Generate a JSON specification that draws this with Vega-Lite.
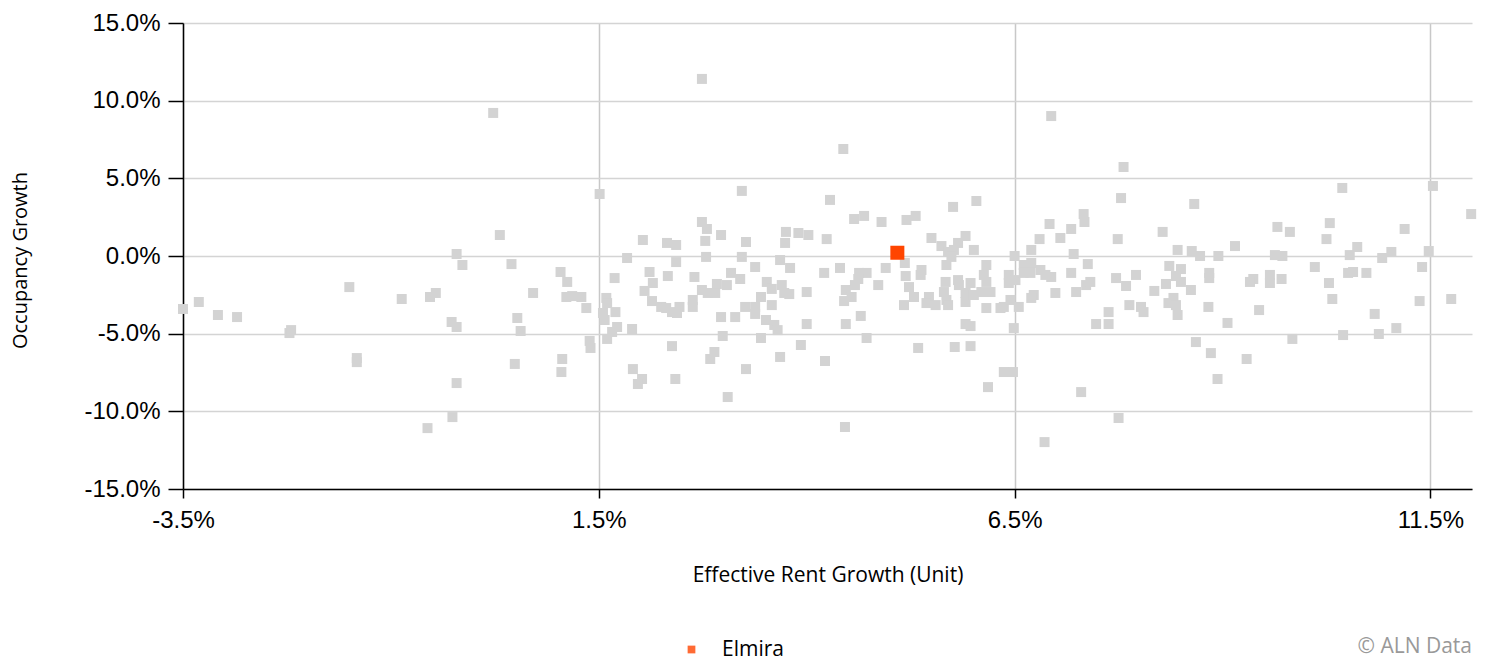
{
  "$schema": "https://vega.github.io/schema/vega-lite/v6.json",
  "width": 1289,
  "height": 466,
  "autosize": {"type": "none"},
  "padding": {"left": 183, "top": 23, "right": 14, "bottom": 169},
  "background": "white",
  "config": {
    "view": {"stroke": null},
    "axis": {"labelFont": "Liberation Sans", "titleFont": "Open Sans", "labelColor": "#000", "titleColor": "#000", "titleFontWeight": "normal"},
    "legend": {"labelFont": "Open Sans"}
  },
  "title": {"text": "© ALN Data", "orient": "bottom", "anchor": "end", "frame": "group", "font": "Open Sans", "fontSize": 21, "fontWeight": "normal", "color": "#999999", "baseline": "top", "offset": -24},
  "data": {"values": [
    {"x": -3.50, "y": -3.41, "m": "Other"},
    {"x": -3.31, "y": -2.96, "m": "Other"},
    {"x": -3.08, "y": -3.80, "m": "Other"},
    {"x": -2.85, "y": -3.93, "m": "Other"},
    {"x": -2.22, "y": -4.96, "m": "Other"},
    {"x": -2.20, "y": -4.77, "m": "Other"},
    {"x": -1.50, "y": -2.00, "m": "Other"},
    {"x": -1.41, "y": -6.57, "m": "Other"},
    {"x": -1.41, "y": -6.83, "m": "Other"},
    {"x": -0.87, "y": -2.77, "m": "Other"},
    {"x": -0.53, "y": -2.64, "m": "Other"},
    {"x": -0.46, "y": -2.38, "m": "Other"},
    {"x": -0.27, "y": -4.25, "m": "Other"},
    {"x": -0.21, "y": -4.57, "m": "Other"},
    {"x": -0.21, "y": 0.13, "m": "Other"},
    {"x": -0.14, "y": -0.58, "m": "Other"},
    {"x": -0.21, "y": -8.18, "m": "Other"},
    {"x": -0.26, "y": -10.37, "m": "Other"},
    {"x": -0.56, "y": -11.08, "m": "Other"},
    {"x": 0.23, "y": 9.21, "m": "Other"},
    {"x": 0.31, "y": 1.35, "m": "Other"},
    {"x": 0.45, "y": -0.52, "m": "Other"},
    {"x": 0.49, "y": -6.95, "m": "Other"},
    {"x": 0.71, "y": -2.38, "m": "Other"},
    {"x": 0.52, "y": -3.99, "m": "Other"},
    {"x": 0.56, "y": -4.83, "m": "Other"},
    {"x": 1.04, "y": -1.03, "m": "Other"},
    {"x": 1.12, "y": -1.67, "m": "Other"},
    {"x": 1.11, "y": -2.64, "m": "Other"},
    {"x": 1.18, "y": -2.58, "m": "Other"},
    {"x": 1.29, "y": -2.64, "m": "Other"},
    {"x": 1.35, "y": -3.35, "m": "Other"},
    {"x": 1.06, "y": -6.63, "m": "Other"},
    {"x": 1.05, "y": -7.47, "m": "Other"},
    {"x": 1.39, "y": -5.47, "m": "Other"},
    {"x": 1.40, "y": -5.92, "m": "Other"},
    {"x": 1.51, "y": 3.99, "m": "Other"},
    {"x": 1.69, "y": -1.42, "m": "Other"},
    {"x": 1.59, "y": -2.70, "m": "Other"},
    {"x": 1.60, "y": -3.03, "m": "Other"},
    {"x": 1.55, "y": -3.67, "m": "Other"},
    {"x": 1.57, "y": -4.12, "m": "Other"},
    {"x": 1.70, "y": -3.61, "m": "Other"},
    {"x": 1.66, "y": -4.89, "m": "Other"},
    {"x": 1.72, "y": -4.57, "m": "Other"},
    {"x": 1.60, "y": -5.34, "m": "Other"},
    {"x": 1.90, "y": -4.70, "m": "Other"},
    {"x": 1.84, "y": -0.13, "m": "Other"},
    {"x": 1.91, "y": -7.28, "m": "Other"},
    {"x": 2.02, "y": -7.92, "m": "Other"},
    {"x": 1.97, "y": -8.24, "m": "Other"},
    {"x": 2.03, "y": 1.03, "m": "Other"},
    {"x": 2.11, "y": -1.03, "m": "Other"},
    {"x": 2.15, "y": -1.74, "m": "Other"},
    {"x": 2.05, "y": -2.25, "m": "Other"},
    {"x": 2.14, "y": -2.90, "m": "Other"},
    {"x": 2.25, "y": -3.28, "m": "Other"},
    {"x": 2.31, "y": -3.35, "m": "Other"},
    {"x": 2.38, "y": -3.61, "m": "Other"},
    {"x": 2.44, "y": -3.67, "m": "Other"},
    {"x": 2.47, "y": -3.28, "m": "Other"},
    {"x": 2.32, "y": 0.84, "m": "Other"},
    {"x": 2.43, "y": 0.71, "m": "Other"},
    {"x": 2.43, "y": -0.39, "m": "Other"},
    {"x": 2.33, "y": -1.29, "m": "Other"},
    {"x": 2.38, "y": -5.80, "m": "Other"},
    {"x": 2.42, "y": -7.92, "m": "Other"},
    {"x": 2.63, "y": -2.83, "m": "Other"},
    {"x": 2.63, "y": -3.28, "m": "Other"},
    {"x": 2.65, "y": -1.35, "m": "Other"},
    {"x": 2.74, "y": 11.40, "m": "Other"},
    {"x": 2.74, "y": 2.19, "m": "Other"},
    {"x": 2.80, "y": 1.74, "m": "Other"},
    {"x": 2.78, "y": 0.97, "m": "Other"},
    {"x": 2.79, "y": -0.06, "m": "Other"},
    {"x": 2.74, "y": -2.19, "m": "Other"},
    {"x": 2.81, "y": -2.38, "m": "Other"},
    {"x": 2.90, "y": -2.38, "m": "Other"},
    {"x": 2.92, "y": -1.80, "m": "Other"},
    {"x": 2.97, "y": 1.35, "m": "Other"},
    {"x": 2.97, "y": -3.93, "m": "Other"},
    {"x": 3.04, "y": -1.87, "m": "Other"},
    {"x": 3.09, "y": -1.09, "m": "Other"},
    {"x": 3.20, "y": -1.48, "m": "Other"},
    {"x": 2.89, "y": -6.18, "m": "Other"},
    {"x": 2.84, "y": -6.63, "m": "Other"},
    {"x": 2.99, "y": -5.15, "m": "Other"},
    {"x": 3.05, "y": -9.08, "m": "Other"},
    {"x": 3.14, "y": -3.93, "m": "Other"},
    {"x": 3.22, "y": 4.19, "m": "Other"},
    {"x": 3.27, "y": 0.90, "m": "Other"},
    {"x": 3.22, "y": -0.06, "m": "Other"},
    {"x": 3.26, "y": -3.28, "m": "Other"},
    {"x": 3.38, "y": -3.28, "m": "Other"},
    {"x": 3.38, "y": -3.73, "m": "Other"},
    {"x": 3.27, "y": -7.28, "m": "Other"},
    {"x": 3.38, "y": -0.71, "m": "Other"},
    {"x": 3.45, "y": -2.64, "m": "Other"},
    {"x": 3.45, "y": -5.28, "m": "Other"},
    {"x": 3.52, "y": -1.67, "m": "Other"},
    {"x": 3.58, "y": -2.12, "m": "Other"},
    {"x": 3.70, "y": -1.87, "m": "Other"},
    {"x": 3.73, "y": -2.38, "m": "Other"},
    {"x": 3.79, "y": -2.45, "m": "Other"},
    {"x": 3.58, "y": -3.16, "m": "Other"},
    {"x": 3.51, "y": -4.12, "m": "Other"},
    {"x": 3.61, "y": -4.44, "m": "Other"},
    {"x": 3.65, "y": -4.77, "m": "Other"},
    {"x": 3.68, "y": -6.50, "m": "Other"},
    {"x": 3.75, "y": 1.55, "m": "Other"},
    {"x": 3.74, "y": 0.84, "m": "Other"},
    {"x": 3.68, "y": -0.26, "m": "Other"},
    {"x": 3.80, "y": -0.77, "m": "Other"},
    {"x": 3.90, "y": 1.48, "m": "Other"},
    {"x": 4.02, "y": 1.35, "m": "Other"},
    {"x": 4.00, "y": -2.32, "m": "Other"},
    {"x": 4.00, "y": -4.38, "m": "Other"},
    {"x": 3.93, "y": -5.73, "m": "Other"},
    {"x": 4.22, "y": -6.76, "m": "Other"},
    {"x": 4.21, "y": -1.09, "m": "Other"},
    {"x": 4.24, "y": 1.09, "m": "Other"},
    {"x": 4.28, "y": 3.61, "m": "Other"},
    {"x": 4.44, "y": 6.89, "m": "Other"},
    {"x": 4.40, "y": -0.77, "m": "Other"},
    {"x": 4.57, "y": 2.38, "m": "Other"},
    {"x": 4.69, "y": 2.58, "m": "Other"},
    {"x": 4.90, "y": 2.19, "m": "Other"},
    {"x": 4.63, "y": -1.09, "m": "Other"},
    {"x": 4.72, "y": -1.09, "m": "Other"},
    {"x": 4.62, "y": -1.48, "m": "Other"},
    {"x": 4.58, "y": -1.87, "m": "Other"},
    {"x": 4.95, "y": -0.77, "m": "Other"},
    {"x": 4.86, "y": -1.87, "m": "Other"},
    {"x": 4.47, "y": -2.19, "m": "Other"},
    {"x": 4.45, "y": -2.90, "m": "Other"},
    {"x": 4.54, "y": -2.64, "m": "Other"},
    {"x": 4.65, "y": -3.86, "m": "Other"},
    {"x": 4.47, "y": -4.38, "m": "Other"},
    {"x": 4.72, "y": -5.28, "m": "Other"},
    {"x": 4.46, "y": -11.01, "m": "Other"},
    {"x": 5.20, "y": 2.32, "m": "Other"},
    {"x": 5.31, "y": 2.58, "m": "Other"},
    {"x": 5.76, "y": 3.16, "m": "Other"},
    {"x": 6.04, "y": 3.54, "m": "Other"},
    {"x": 5.50, "y": 1.16, "m": "Other"},
    {"x": 5.62, "y": 0.64, "m": "Other"},
    {"x": 5.91, "y": 1.29, "m": "Other"},
    {"x": 5.82, "y": 0.84, "m": "Other"},
    {"x": 5.77, "y": 0.39, "m": "Other"},
    {"x": 6.01, "y": 0.39, "m": "Other"},
    {"x": 5.70, "y": 0.26, "m": "Other"},
    {"x": 5.74, "y": -0.06, "m": "Other"},
    {"x": 5.68, "y": -0.58, "m": "Other"},
    {"x": 5.18, "y": -0.45, "m": "Other"},
    {"x": 5.19, "y": -1.29, "m": "Other"},
    {"x": 5.38, "y": -0.90, "m": "Other"},
    {"x": 5.37, "y": -1.22, "m": "Other"},
    {"x": 5.23, "y": -2.00, "m": "Other"},
    {"x": 5.29, "y": -2.64, "m": "Other"},
    {"x": 5.17, "y": -3.16, "m": "Other"},
    {"x": 5.47, "y": -2.64, "m": "Other"},
    {"x": 5.44, "y": -3.03, "m": "Other"},
    {"x": 5.55, "y": -3.16, "m": "Other"},
    {"x": 5.67, "y": -1.67, "m": "Other"},
    {"x": 5.65, "y": -2.32, "m": "Other"},
    {"x": 5.68, "y": -2.83, "m": "Other"},
    {"x": 5.70, "y": -3.16, "m": "Other"},
    {"x": 5.82, "y": -1.55, "m": "Other"},
    {"x": 5.83, "y": -1.87, "m": "Other"},
    {"x": 5.97, "y": -1.74, "m": "Other"},
    {"x": 5.91, "y": -2.38, "m": "Other"},
    {"x": 5.91, "y": -2.96, "m": "Other"},
    {"x": 6.01, "y": -2.51, "m": "Other"},
    {"x": 6.16, "y": -0.58, "m": "Other"},
    {"x": 6.13, "y": -1.22, "m": "Other"},
    {"x": 6.16, "y": -1.67, "m": "Other"},
    {"x": 6.10, "y": -2.32, "m": "Other"},
    {"x": 6.21, "y": -2.32, "m": "Other"},
    {"x": 6.16, "y": -3.35, "m": "Other"},
    {"x": 6.33, "y": -3.35, "m": "Other"},
    {"x": 6.37, "y": -3.28, "m": "Other"},
    {"x": 6.43, "y": -1.22, "m": "Other"},
    {"x": 6.43, "y": -1.74, "m": "Other"},
    {"x": 6.51, "y": -1.55, "m": "Other"},
    {"x": 6.45, "y": -2.83, "m": "Other"},
    {"x": 6.55, "y": -3.28, "m": "Other"},
    {"x": 6.50, "y": 0.00, "m": "Other"},
    {"x": 6.61, "y": -0.58, "m": "Other"},
    {"x": 6.70, "y": -0.45, "m": "Other"},
    {"x": 6.61, "y": -1.09, "m": "Other"},
    {"x": 6.69, "y": -1.09, "m": "Other"},
    {"x": 6.81, "y": -0.90, "m": "Other"},
    {"x": 6.87, "y": -1.22, "m": "Other"},
    {"x": 6.94, "y": -1.35, "m": "Other"},
    {"x": 6.73, "y": -2.51, "m": "Other"},
    {"x": 6.70, "y": -2.70, "m": "Other"},
    {"x": 6.99, "y": -2.38, "m": "Other"},
    {"x": 5.91, "y": -4.38, "m": "Other"},
    {"x": 5.97, "y": -4.51, "m": "Other"},
    {"x": 6.49, "y": -4.64, "m": "Other"},
    {"x": 5.34, "y": -5.92, "m": "Other"},
    {"x": 5.78, "y": -5.86, "m": "Other"},
    {"x": 5.97, "y": -5.80, "m": "Other"},
    {"x": 6.37, "y": -7.47, "m": "Other"},
    {"x": 6.48, "y": -7.47, "m": "Other"},
    {"x": 6.18, "y": -8.44, "m": "Other"},
    {"x": 6.86, "y": -11.98, "m": "Other"},
    {"x": 6.94, "y": 9.01, "m": "Other"},
    {"x": 6.70, "y": 0.39, "m": "Other"},
    {"x": 6.80, "y": 1.09, "m": "Other"},
    {"x": 6.92, "y": 2.06, "m": "Other"},
    {"x": 7.05, "y": 1.16, "m": "Other"},
    {"x": 7.18, "y": 1.74, "m": "Other"},
    {"x": 7.33, "y": 2.70, "m": "Other"},
    {"x": 7.34, "y": 2.19, "m": "Other"},
    {"x": 7.21, "y": 0.13, "m": "Other"},
    {"x": 7.38, "y": -0.52, "m": "Other"},
    {"x": 7.18, "y": -1.09, "m": "Other"},
    {"x": 7.24, "y": -2.32, "m": "Other"},
    {"x": 7.36, "y": -1.87, "m": "Other"},
    {"x": 7.41, "y": -1.67, "m": "Other"},
    {"x": 7.30, "y": -8.76, "m": "Other"},
    {"x": 7.74, "y": 1.09, "m": "Other"},
    {"x": 7.78, "y": 3.73, "m": "Other"},
    {"x": 7.81, "y": 5.73, "m": "Other"},
    {"x": 7.72, "y": -1.42, "m": "Other"},
    {"x": 7.84, "y": -1.93, "m": "Other"},
    {"x": 7.96, "y": -1.22, "m": "Other"},
    {"x": 7.88, "y": -3.16, "m": "Other"},
    {"x": 8.02, "y": -3.28, "m": "Other"},
    {"x": 8.05, "y": -3.61, "m": "Other"},
    {"x": 7.63, "y": -3.61, "m": "Other"},
    {"x": 7.48, "y": -4.38, "m": "Other"},
    {"x": 7.63, "y": -4.38, "m": "Other"},
    {"x": 7.75, "y": -10.43, "m": "Other"},
    {"x": 8.28, "y": 1.55, "m": "Other"},
    {"x": 8.66, "y": 3.35, "m": "Other"},
    {"x": 8.46, "y": 0.39, "m": "Other"},
    {"x": 8.63, "y": 0.32, "m": "Other"},
    {"x": 8.73, "y": 0.00, "m": "Other"},
    {"x": 8.95, "y": 0.00, "m": "Other"},
    {"x": 9.15, "y": 0.64, "m": "Other"},
    {"x": 8.36, "y": -0.64, "m": "Other"},
    {"x": 8.50, "y": -0.84, "m": "Other"},
    {"x": 8.44, "y": -1.29, "m": "Other"},
    {"x": 8.32, "y": -1.80, "m": "Other"},
    {"x": 8.50, "y": -1.67, "m": "Other"},
    {"x": 8.18, "y": -2.25, "m": "Other"},
    {"x": 8.62, "y": -2.19, "m": "Other"},
    {"x": 8.84, "y": -1.09, "m": "Other"},
    {"x": 8.84, "y": -1.42, "m": "Other"},
    {"x": 8.35, "y": -3.03, "m": "Other"},
    {"x": 8.41, "y": -2.70, "m": "Other"},
    {"x": 8.44, "y": -3.16, "m": "Other"},
    {"x": 8.46, "y": -3.80, "m": "Other"},
    {"x": 8.83, "y": -3.28, "m": "Other"},
    {"x": 9.06, "y": -4.31, "m": "Other"},
    {"x": 8.68, "y": -5.54, "m": "Other"},
    {"x": 8.86, "y": -6.25, "m": "Other"},
    {"x": 8.94, "y": -7.92, "m": "Other"},
    {"x": 9.29, "y": -6.63, "m": "Other"},
    {"x": 9.44, "y": -3.48, "m": "Other"},
    {"x": 9.37, "y": -1.48, "m": "Other"},
    {"x": 9.33, "y": -1.67, "m": "Other"},
    {"x": 9.57, "y": -1.22, "m": "Other"},
    {"x": 9.57, "y": -1.74, "m": "Other"},
    {"x": 9.71, "y": -1.48, "m": "Other"},
    {"x": 9.63, "y": 0.06, "m": "Other"},
    {"x": 9.72, "y": 0.00, "m": "Other"},
    {"x": 9.66, "y": 1.87, "m": "Other"},
    {"x": 9.81, "y": 1.55, "m": "Other"},
    {"x": 9.84, "y": -5.34, "m": "Other"},
    {"x": 10.11, "y": -0.71, "m": "Other"},
    {"x": 10.28, "y": -1.74, "m": "Other"},
    {"x": 10.32, "y": -2.77, "m": "Other"},
    {"x": 10.29, "y": 2.12, "m": "Other"},
    {"x": 10.25, "y": 1.09, "m": "Other"},
    {"x": 10.44, "y": 4.38, "m": "Other"},
    {"x": 10.45, "y": -5.09, "m": "Other"},
    {"x": 10.51, "y": -1.09, "m": "Other"},
    {"x": 10.57, "y": -1.03, "m": "Other"},
    {"x": 10.73, "y": -1.09, "m": "Other"},
    {"x": 10.53, "y": 0.06, "m": "Other"},
    {"x": 10.62, "y": 0.58, "m": "Other"},
    {"x": 10.83, "y": -3.73, "m": "Other"},
    {"x": 10.88, "y": -5.02, "m": "Other"},
    {"x": 10.92, "y": -0.13, "m": "Other"},
    {"x": 11.03, "y": 0.26, "m": "Other"},
    {"x": 11.09, "y": -4.64, "m": "Other"},
    {"x": 11.19, "y": 1.74, "m": "Other"},
    {"x": 11.37, "y": -2.90, "m": "Other"},
    {"x": 11.40, "y": -0.71, "m": "Other"},
    {"x": 11.48, "y": 0.32, "m": "Other"},
    {"x": 11.53, "y": 4.51, "m": "Other"},
    {"x": 11.75, "y": -2.77, "m": "Other"},
    {"x": 11.99, "y": 2.70, "m": "Other"},
    {"x": 5.09, "y": 0.21, "m": "Elmira"}
  ]},
  "encoding": {
    "x": {"field": "x", "type": "quantitative", "scale": {"domain": [-3.5, 12], "nice": false, "zero": false},
      "axis": {"values": [-3.5, 1.5, 6.5, 11.5], "labelExpr": "replace(format(datum.value, '.1f'), '\u2212', '-') + '%'", "title": "Effective Rent Growth (Unit)",
        "labelFontSize": 24, "labelPadding": 10, "tickSize": 9, "tickColor": "#000", "domainColor": "#000", "domainWidth": 1.5, "tickWidth": 1.5,
        "gridColor": "#c8c8c8", "gridWidth": 1.5, "titleFontSize": 21, "titleY": 86, "titleBaseline": "middle", "labelFlush": false}},
    "y": {"field": "y", "type": "quantitative", "scale": {"domain": [-15, 15], "nice": false, "zero": false},
      "axis": {"values": [-15, -10, -5, 0, 5, 10, 15], "labelExpr": "replace(format(datum.value, '.1f'), '\u2212', '-') + '%'", "title": "Occupancy Growth",
        "labelFontSize": 24, "labelPadding": 8, "tickSize": 15, "tickColor": "#000", "domainColor": "#000", "domainWidth": 1.5, "tickWidth": 1.5,
        "gridColor": "#d4d4d4", "gridWidth": 1.5, "titleFontSize": 20, "titleX": -163, "titleY": 237, "titleAngle": -90, "titleAlign": "center", "titleBaseline": "middle", "labelFlush": false}}
  },
  "layer": [
    {"transform": [{"filter": "datum.m === 'Other'"}],
     "mark": {"type": "point", "shape": "square", "filled": true, "size": 100, "color": "#d3d3d3", "opacity": 1}},
    {"transform": [{"filter": "datum.m === 'Elmira'"}],
     "mark": {"type": "point", "shape": "square", "filled": true, "size": 196, "opacity": 1},
     "encoding": {"color": {"field": "m", "type": "nominal", "scale": {"domain": ["Elmira"], "range": ["#ff4500"]},
       "legend": {"title": null, "orient": "none", "legendX": 498, "legendY": 616, "labelFontSize": 21, "labelColor": "#000", "symbolSize": 60, "symbolType": "square", "labelOffset": 20, "padding": 0, "symbolOpacity": 0.8}}}}
  ]
}
